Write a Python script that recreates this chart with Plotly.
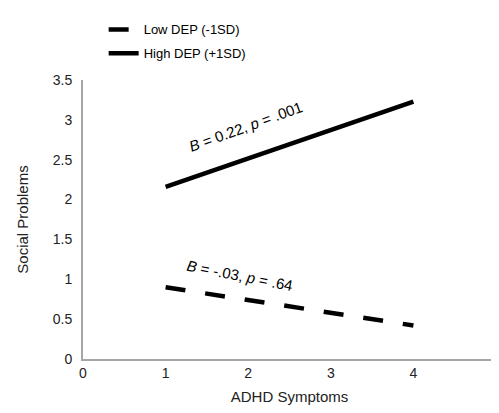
import plotly.graph_objects as go

adhd_x = [1, 4]
low_dep = [0.90, 0.42]
high_dep = [2.16, 3.23]
series_names = ["Low DEP (-1SD)", "High DEP (+1SD)"]
x_ticks = [0, 1, 2, 3, 4, 5]
y_ticks = [0, 0.5, 1, 1.5, 2, 2.5, 3, 3.5]
y_tick_labels = ["0", "0.5", "1", "1.5", "2", "2.5", "3", "3.5"]

font_family = "Liberation Sans, Arial, sans-serif"

fig = go.Figure()
fig.add_trace(go.Scatter(
    x=adhd_x, y=low_dep, mode="lines", name=series_names[0],
    line=dict(color="black", width=4.5, dash="20px,20px"),
    legendgroup="low",
))
fig.add_trace(go.Scatter(
    x=adhd_x, y=high_dep, mode="lines", name=series_names[1],
    line=dict(color="black", width=4.5),
    legendgroup="high",
))

fig.add_annotation(
    x=1.97, y=2.92, xref="x", yref="y",
    text="<i>B</i> = 0.22, <i>p</i> = .001", showarrow=False,
    textangle=-20, font=dict(family=font_family, size=15, color="black"),
)
fig.add_annotation(
    x=1.90, y=1.05, xref="x", yref="y",
    text="<i>B</i> = -.03, <i>p</i> = .64", showarrow=False,
    textangle=11, font=dict(family=font_family, size=15, color="black"),
)

fig.update_layout(
    width=494, height=397,
    margin=dict(l=75, r=6, t=59, b=46),
    paper_bgcolor="white", plot_bgcolor="white",
    font=dict(family=font_family, size=14, color="#222"),
    showlegend=True,
    legend=dict(
        x=0.05, y=1.235, xanchor="left", yanchor="top",
        font=dict(family=font_family, size=13, color="black"),
        tracegroupgap=4, bgcolor="rgba(0,0,0,0)",
    ),
    xaxis=dict(
        range=[0, 5], tickvals=x_ticks, ticktext=[str(v) for v in x_ticks],
        showgrid=False, zeroline=False,
        showline=True, linecolor="#a6a6a6", linewidth=2, automargin=False,
        ticks="", ticklabeloverflow="allow", tickfont=dict(size=14, color="#222"),
        title=dict(text="ADHD Symptoms", font=dict(size=15, color="#222"), standoff=15),
    ),
    yaxis=dict(
        range=[0, 3.5], tickvals=y_ticks, ticktext=y_tick_labels,
        showgrid=False, zeroline=False, automargin=False,
        showline=True, linecolor="#a6a6a6", linewidth=2,
        ticks="", ticklabelstandoff=6, tickfont=dict(size=14, color="#222"),
        title=dict(text="Social Problems", font=dict(size=15, color="#222"), standoff=20),
    ),
)

fig.write_html("out.html")
